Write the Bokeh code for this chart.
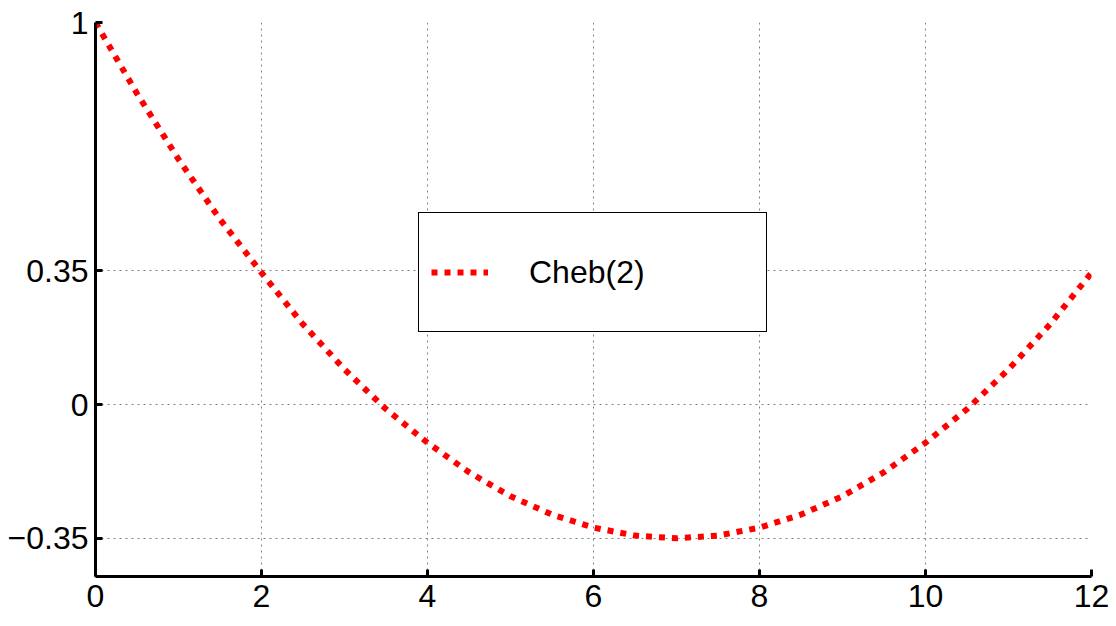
from bokeh.plotting import figure
from bokeh.models import Range1d, FixedTicker, Legend, LegendItem
from bokeh.embed import file_html
from bokeh.resources import INLINE

# data
x_vals = [0, 0.5, 1, 1.5, 2, 2.5, 3, 3.5, 4, 4.5, 5, 5.5, 6, 6.5, 7,
          7.5, 8, 8.5, 9, 9.5, 10, 10.5, 11, 11.5, 12]
y_vals = [1.0, 0.814, 0.642, 0.485, 0.345, 0.21, 0.092, -0.012, -0.10, -0.177,
          -0.24, -0.288, -0.322, -0.343, -0.35, -0.343, -0.322, -0.288, -0.24,
          -0.177, -0.10, -0.012, 0.092, 0.21, 0.345]
series_name = "Cheb(2)"
x_ticks = [0, 2, 4, 6, 8, 10, 12]
y_ticks = [-0.35, 0, 0.35, 1]
y_tick_labels = {-0.35: "\u22120.35", 0: "0", 0.35: "0.35", 1: "1"}

FONT = "Liberation Sans"

p = figure(width=1116, height=626, output_backend="svg", toolbar_location=None,
           x_range=Range1d(0, 12), y_range=Range1d(-0.45, 1.0),
           min_border_left=95, min_border_right=25, min_border_top=22,
           min_border_bottom=50)
p.outline_line_color = None
p.background_fill_color = "white"
p.border_fill_color = "white"

r = p.line(x_vals, y_vals, line_color="#ff0000", line_width=6, line_dash="6 7")

for ax, ticks in ((p.xaxis[0], x_ticks), (p.yaxis[0], y_ticks)):
    ax.ticker = FixedTicker(ticks=ticks)
    ax.axis_line_width = 3
    ax.axis_line_color = "black"
    ax.major_tick_in = 7
    ax.major_tick_out = 0
    ax.major_tick_line_width = 3
    ax.major_tick_line_color = "black"
    ax.minor_tick_line_color = None
    ax.major_label_text_font = FONT
    ax.major_label_text_font_size = "32px"
    ax.major_label_text_color = "black"

p.yaxis[0].major_label_overrides = y_tick_labels
p.yaxis[0].major_label_standoff = 7
p.xaxis[0].major_label_standoff = 8

p.xgrid.ticker = FixedTicker(ticks=x_ticks)
p.ygrid.ticker = FixedTicker(ticks=y_ticks)
for g in (p.xgrid[0], p.ygrid[0]):
    g.grid_line_color = "#808080"
    g.grid_line_dash = "2 4"
    g.grid_line_width = 1

legend = Legend(items=[LegendItem(label=series_name, renderers=[r])],
                location=(323, 244), orientation="vertical")
legend.border_line_color = "black"
legend.border_line_alpha = 1.0
legend.border_line_width = 1.5
legend.background_fill_color = "white"
legend.background_fill_alpha = 1
legend.label_text_font = FONT
legend.label_text_font_size = "32px"
legend.label_text_color = "black"
legend.glyph_width = 57
legend.glyph_height = 20
legend.label_standoff = 41
legend.padding = 12
legend.margin = 0
legend.spacing = 0
legend.label_width = 225
legend.label_height = 94
p.add_layout(legend, "center")

open("out.html", "w").write(file_html(p, INLINE))
